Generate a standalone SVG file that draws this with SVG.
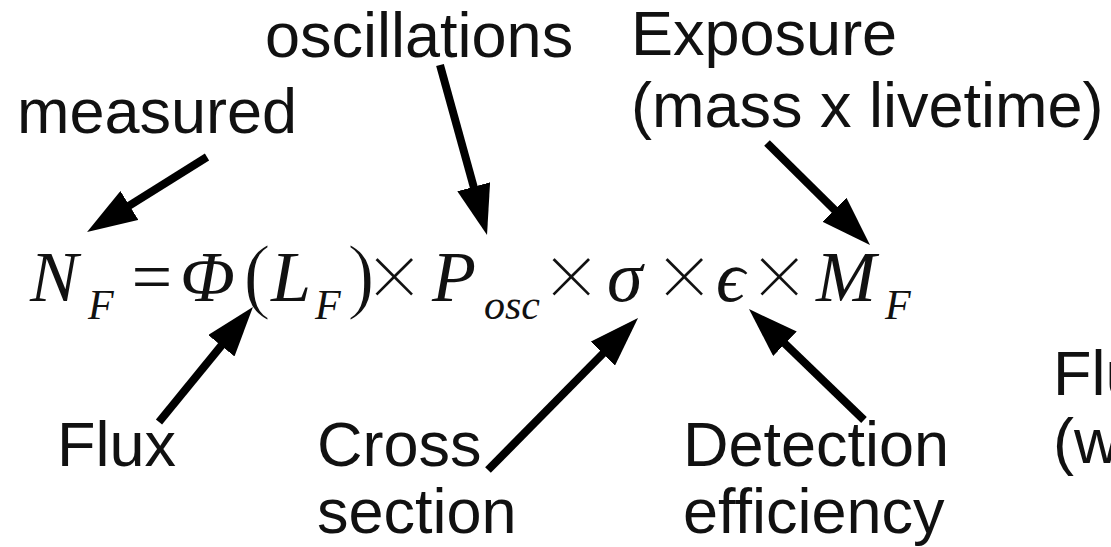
<svg xmlns="http://www.w3.org/2000/svg" width="1111" height="547" viewBox="0 0 1111 547">
<style>
.lbl{font-family:"Liberation Sans",Arial,sans-serif;font-size:63px;fill:#111}
.eq{font-family:"Liberation Serif","Times New Roman",serif;fill:#111}
.it{font-style:italic;font-size:72px}
.sub{font-style:italic;font-size:42px}
.op{font-size:100px;stroke:#fff;stroke-width:2.2}
.par{font-size:84px;stroke:#fff;stroke-width:1.6}
.arr{stroke:#000;stroke-width:8;fill:none;marker-end:url(#ah)}
</style>
<defs>
<marker id="ah" markerUnits="userSpaceOnUse" markerWidth="50" markerHeight="34" viewBox="0 0 50 34" refX="3" refY="17" orient="auto">
<path d="M0,0 L50,17 L0,34 z" fill="#000"/>
</marker>
</defs>
<rect width="1111" height="547" fill="#fff"/>
<g id="equation">
<text class="eq it" x="30" y="301">N</text>
<text class="eq sub" x="88" y="319">F</text>
<text class="eq it" x="127" y="301" font-style="normal">=</text>
<text class="eq it" x="180" y="301">Φ</text>
<text class="eq par" x="243" y="303">(</text>
<text class="eq it" x="271" y="301">L</text>
<text class="eq sub" x="315" y="319">F</text>
<text class="eq par" x="347" y="303">)</text>
<text class="eq op" x="366" y="310">×</text>
<text class="eq it" x="432" y="301">P</text>
<text class="eq sub" x="484" y="319">osc</text>
<text class="eq op" x="543" y="310">×</text>
<text class="eq it" x="607" y="301" font-size="80">σ</text>
<text class="eq op" x="656" y="310">×</text>
<text class="eq it" x="716" y="301">ϵ</text>
<text class="eq op" x="751" y="310">×</text>
<text class="eq it" x="816" y="301">M</text>
<text class="eq sub" x="885" y="319">F</text>
</g>
<g id="measured"><text class="lbl" x="17" y="133">measured</text></g>
<g id="oscillations"><text class="lbl" x="265" y="57">oscillations</text></g>
<g id="exposure"><text class="lbl" x="631" y="55">Exposure</text><text class="lbl" x="631" y="127">(mass x livetime)</text></g>
<g id="flux"><text class="lbl" x="57" y="466">Flux</text></g>
<g id="cross"><text class="lbl" x="317" y="466">Cross</text><text class="lbl" x="317" y="533">section</text></g>
<g id="detection"><text class="lbl" x="683" y="466">Detection</text><text class="lbl" x="683" y="533">efficiency</text></g>
<g id="flux2"><text class="lbl" x="1053" y="395">Flu</text><text class="lbl" x="1053" y="463">(w</text></g>
<g id="connectors">
<line class="arr" x1="207" y1="157" x2="126.9" y2="207.1"/>
<line class="arr" x1="440" y1="65" x2="474.5" y2="189.7"/>
<line class="arr" x1="767" y1="143" x2="836.6" y2="211.9"/>
<line class="arr" x1="159" y1="422" x2="223.2" y2="343.4"/>
<line class="arr" x1="488" y1="470" x2="605" y2="351.5"/>
<line class="arr" x1="864" y1="420" x2="782.8" y2="341.7"/>
</g>
</svg>
